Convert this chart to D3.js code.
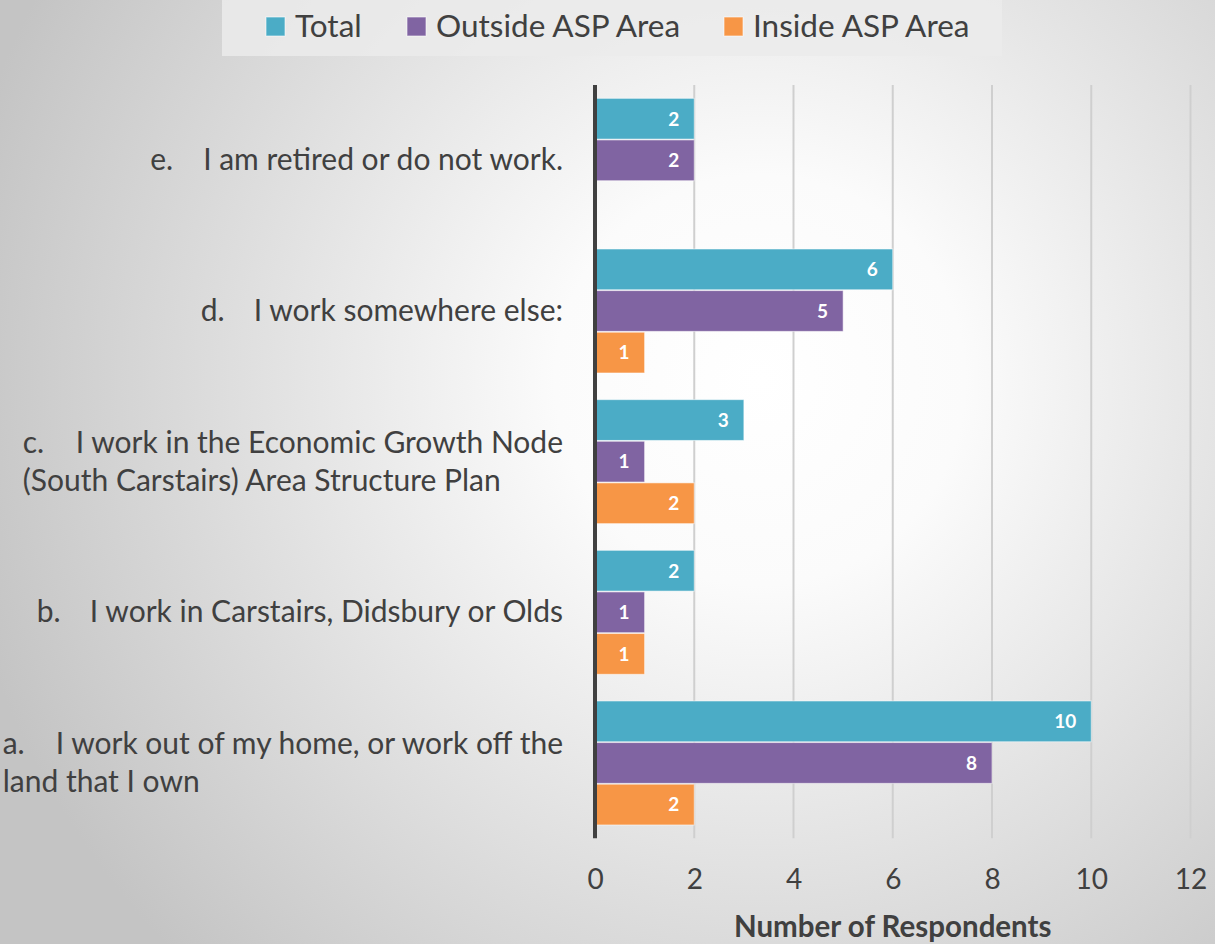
<!DOCTYPE html>
<html>
<head>
<meta charset="utf-8">
<script src="https://cdn.jsdelivr.net/npm/d3@7"></script>
<style>
  html, body { margin: 0; padding: 0; background: #fff; }
  svg { display: block; }
  text { font-family: "Lato", "Open Sans", sans-serif; fill: #404040; }
</style>
</head>
<body>
<svg id="chart" width="1215" height="944"></svg>
<script>
// ---- data ----
const categoryPrefixes = ["a.", "b.", "c.", "d.", "e."];
const categoryLines = [
  ["I work out of my home, or work off the", "land that I own"],
  ["I work in Carstairs, Didsbury or Olds"],
  ["I work in the Economic Growth Node", "(South Carstairs) Area Structure Plan"],
  ["I work somewhere else:"],
  ["I am retired or do not work."]
];
const seriesNames = ["Total", "Outside ASP Area", "Inside ASP Area"];
const totalValues   = [10, 2, 3, 6, 2];
const outsideValues = [8, 1, 1, 5, 2];
const insideValues  = [2, 1, 2, 1, 0];
const tickValues = [0, 2, 4, 6, 8, 10, 12];
const seriesColors = ["#4BACC6", "#8064A2", "#F79646"];
const axisTitle = "Number of Respondents";

const seriesValues = [totalValues, outsideValues, insideValues];
const categories = categoryPrefixes; // a..e
const displayOrder = categories.slice().reverse(); // e at top

const svg = d3.select("#chart");
const W = 1215, H = 944;

// background radial gradient
const defs = svg.append("defs");
const grad = defs.append("radialGradient")
  .attr("id", "bg").attr("gradientUnits", "userSpaceOnUse")
  .attr("cx", 760).attr("cy", 380).attr("r", 820);
grad.append("stop").attr("offset", "0").attr("stop-color", "#ffffff");
grad.append("stop").attr("offset", "0.25").attr("stop-color", "#fbfbfb");
grad.append("stop").attr("offset", "1").attr("stop-color", "#c4c4c4");
svg.append("rect").attr("width", W).attr("height", H).attr("fill", "url(#bg)");

// scales
const x = d3.scaleLinear().domain([0, 12]).range([595, 1190.5]);
const y0 = d3.scaleBand().domain(displayOrder).range([85, 838.3])
  .paddingInner(0.177).paddingOuter(0.0885);
const y1 = d3.scaleBand().domain(seriesNames).range([0, y0.bandwidth()]).paddingInner(0.02);

// gridlines
svg.append("g").selectAll("line")
  .data(tickValues.filter(d => d > 0))
  .join("line")
  .attr("x1", d => x(d)).attr("x2", d => x(d))
  .attr("y1", 85).attr("y2", 838.3)
  .attr("stroke", "#cfcfcf").attr("stroke-width", 2);

// bars
const groups = svg.append("g").selectAll("g")
  .data(categories.map((c, i) => ({c, i})))
  .join("g")
  .attr("transform", d => `translate(0,${y0(d.c)})`);

groups.selectAll("rect")
  .data(d => seriesNames.map((s, k) => ({s, k, v: seriesValues[k][d.i]})))
  .join("rect")
  .attr("x", x(0))
  .attr("y", d => y1(d.s))
  .attr("width", d => x(d.v) - x(0))
  .attr("height", y1.bandwidth())
  .attr("fill", d => seriesColors[d.k])
  .attr("stroke", "rgba(255,255,255,0.55)")
  .attr("stroke-width", 1)
  .attr("display", d => d.v > 0 ? null : "none");

groups.selectAll("text.val")
  .data(d => seriesNames.map((s, k) => ({s, k, v: seriesValues[k][d.i]})).filter(e => e.v > 0))
  .join("text")
  .attr("class", "val")
  .attr("x", d => x(d.v) - 15)
  .attr("y", d => y1(d.s) + y1.bandwidth() / 2)
  .attr("dy", "0.36em")
  .attr("text-anchor", "end")
  .style("fill", "#ffffff")
  .style("font-weight", "bold")
  .style("font-size", "19px")
  .text(d => d.v);

// zero axis line
svg.append("line")
  .attr("x1", x(0)).attr("x2", x(0))
  .attr("y1", 85).attr("y2", 838.3)
  .attr("stroke", "#404040").attr("stroke-width", 4);

// x axis tick labels
const xAxis = d3.axisBottom(x).tickValues(tickValues).tickSize(0).tickPadding(0);
const gx = svg.append("g").attr("transform", "translate(0,869)").call(xAxis);
gx.select(".domain").remove();
gx.selectAll("text")
  .attr("dy", "0.71em")
  .style("font-family", "Lato, sans-serif")
  .style("font-size", "28px")
  .style("fill", "#404040");

// axis title
svg.append("text")
  .attr("x", (x(0) + x(12)) / 2)
  .attr("y", 937)
  .attr("text-anchor", "middle")
  .style("font-size", "29.5px")
  .style("font-weight", "bold")
  .text(axisTitle);

// category labels
const labelRight = 563;
const tabOffset = 53;
const lineGap = 38;
categories.forEach((c, i) => {
  const lines = categoryLines[i];
  const cy = y0(c) + y0.bandwidth() / 2;
  const g = svg.append("g");
  const t = g.append("text").style("font-size", "30px");
  const n = lines.length;
  const tspans = [];
  lines.forEach((ln, j) => {
    const by = cy + (j - (n - 1) / 2) * lineGap + 10;
    if (j === 0) {
      t.append("tspan").attr("class", "pre").attr("x", 0).attr("y", by).text(categoryPrefixes[i]);
      tspans.push(t.append("tspan").attr("class", "l0").attr("x", tabOffset).attr("y", by).text(ln));
    } else {
      tspans.push(t.append("tspan").attr("x", 0).attr("y", by).text(ln));
    }
  });
  let w = 0;
  tspans.forEach((ts, j) => {
    const len = ts.node().getComputedTextLength() + (j === 0 ? tabOffset : 0);
    w = Math.max(w, len);
  });
  g.attr("transform", `translate(${labelRight - w},0)`);
});

// legend
const legendG = svg.append("g");
legendG.append("rect")
  .attr("x", 222).attr("y", 0).attr("width", 780).attr("height", 56)
  .attr("fill", "#ebebeb").attr("opacity", 0.85);
const legendX = [266, 407, 724];
seriesNames.forEach((s, k) => {
  legendG.append("rect")
    .attr("x", legendX[k]).attr("y", 17).attr("width", 19).attr("height", 19)
    .attr("fill", seriesColors[k])
    .attr("stroke", "rgba(255,255,255,0.6)").attr("stroke-width", 1);
  legendG.append("text")
    .attr("x", legendX[k] + 29).attr("y", 37)
    .style("font-size", "31.5px")
    .text(s);
});
</script>
</body>
</html>
